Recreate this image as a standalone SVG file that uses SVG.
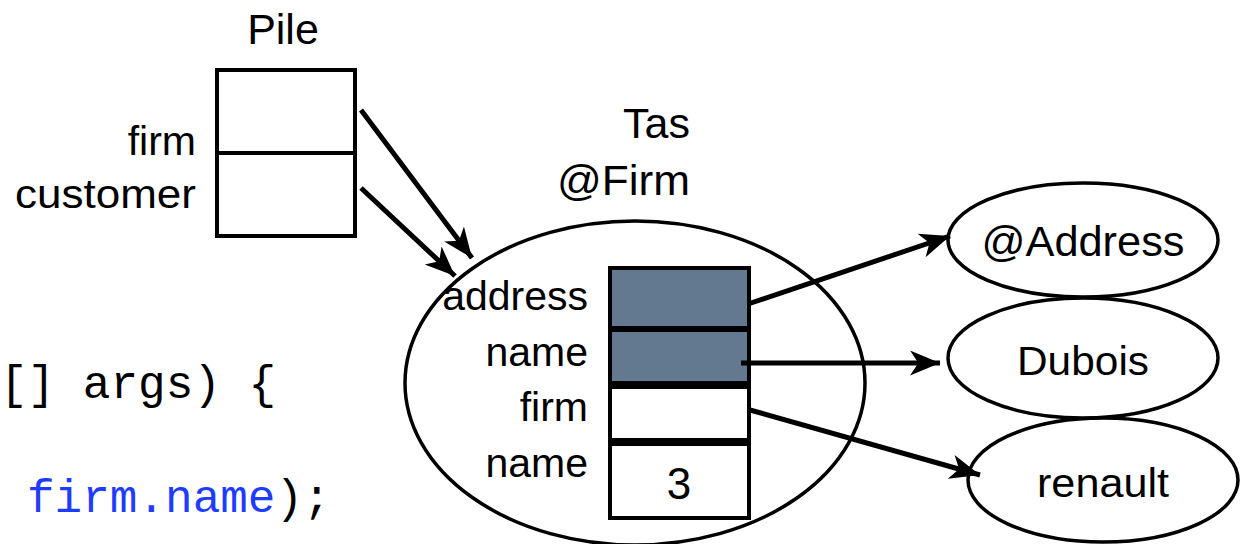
<svg xmlns="http://www.w3.org/2000/svg" width="1247" height="544" viewBox="0 0 1247 544">
  <style>
    .lbl { font-family: "Liberation Sans", Arial, sans-serif; font-size: 41px; fill: #000; }
    .code { font-family: "Liberation Mono", "Courier New", monospace; font-size: 46px; fill: #000; }
    .kw { fill: #1e3cff; }
    .cell { fill: #fff; stroke: #000; stroke-width: 4; }
    .ref { fill: #63798f; stroke: #000; stroke-width: 4; }
    .obj { fill: none; stroke: #000; stroke-width: 3.5; }
    .link { fill: none; stroke: #000; stroke-width: 5; marker-end: url(#head); }
  </style>
  <defs>
    <marker id="head" markerUnits="userSpaceOnUse" markerWidth="32" markerHeight="30" viewBox="-29 -13 31 26" refX="0" refY="0" orient="auto">
      <path d="M0,0 L-29,-12 L-21,0 L-29,12 Z" fill="#000"/>
    </marker>
  </defs>
  <rect width="1247" height="544" fill="#fff"/>

  <!-- source fragment, clipped at the left edge -->
  <g id="code">
    <text class="code" x="0" y="398" xml:space="preserve">[] args) {</text>
    <text class="code" x="27" y="512"><tspan class="kw">firm.name</tspan>);</text>
  </g>

  <!-- stack frame -->
  <g id="pile">
    <text class="lbl" x="283" y="44" text-anchor="middle" style="font-size:43px">Pile</text>
    <rect class="cell" x="217" y="70" width="138" height="83"/>
    <rect class="cell" x="217" y="153" width="138" height="83"/>
    <text class="lbl" x="196" y="155" text-anchor="end">firm</text>
    <text class="lbl" x="196" y="208" text-anchor="end" textLength="181" lengthAdjust="spacingAndGlyphs">customer</text>
  </g>

  <!-- heap object -->
  <g id="tas">
    <text class="lbl" x="690" y="138" text-anchor="end" style="font-size:43px">Tas</text>
    <text class="lbl" x="690" y="195" text-anchor="end" textLength="133" lengthAdjust="spacingAndGlyphs" style="font-size:43px">@Firm</text>
    <ellipse class="obj" cx="635" cy="383" rx="230" ry="162"/>
    <rect class="ref" x="610" y="268" width="139" height="60"/>
    <rect class="ref" x="610" y="330" width="139" height="53"/>
    <rect class="cell" x="610" y="387" width="139" height="53"/>
    <rect class="cell" x="610" y="444" width="139" height="74"/>
    <text class="lbl" x="588" y="310" text-anchor="end">address</text>
    <text class="lbl" x="588" y="366" text-anchor="end">name</text>
    <text class="lbl" x="588" y="421" text-anchor="end">firm</text>
    <text class="lbl" x="588" y="477" text-anchor="end">name</text>
    <text class="lbl" x="679" y="499" text-anchor="middle" style="font-size:44px">3</text>
  </g>

  <g id="address">
    <ellipse class="obj" cx="1083" cy="240" rx="135" ry="57"/>
    <text class="lbl" x="1083" y="256" text-anchor="middle" textLength="203" lengthAdjust="spacingAndGlyphs" style="font-size:43px">@Address</text>
  </g>
  <g id="dubois">
    <ellipse class="obj" cx="1083" cy="358" rx="135" ry="60"/>
    <text class="lbl" x="1083" y="375" text-anchor="middle" textLength="132" lengthAdjust="spacingAndGlyphs">Dubois</text>
  </g>
  <g id="renault">
    <ellipse class="obj" cx="1103" cy="480" rx="135" ry="62"/>
    <text class="lbl" x="1103" y="497" text-anchor="middle" textLength="132" lengthAdjust="spacingAndGlyphs">renault</text>
  </g>

  <!-- references -->
  <g id="connectors">
    <line class="link" x1="361" y1="110" x2="472" y2="258"/>
    <line class="link" x1="361" y1="188" x2="455" y2="276"/>
    <line class="link" x1="748" y1="304" x2="950" y2="236"/>
    <line class="link" x1="741" y1="363" x2="940" y2="363"/>
    <line class="link" x1="750" y1="410" x2="980" y2="475"/>
  </g>
</svg>
